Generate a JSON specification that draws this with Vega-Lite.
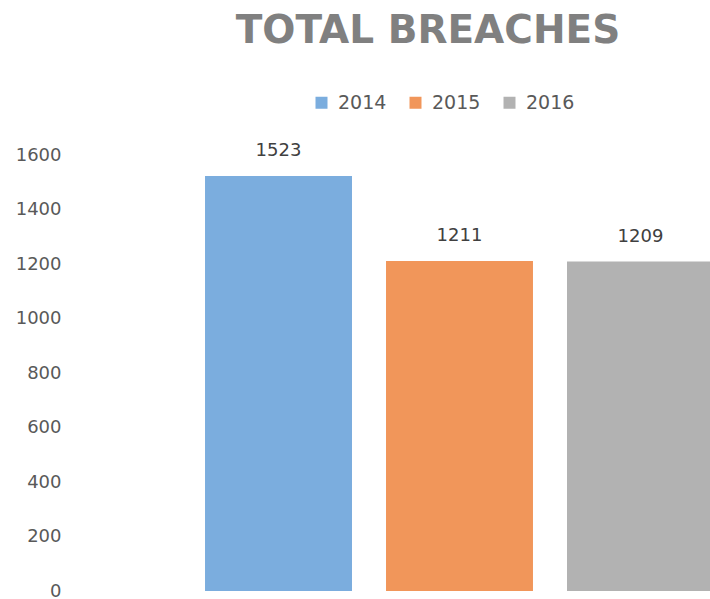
{
  "$schema": "https://vega.github.io/schema/vega-lite/v6.json",
  "width": 640,
  "height": 436,
  "autosize": "none",
  "padding": {"left": 70, "top": 155, "right": 0, "bottom": 8},
  "background": "white",
  "view": {"stroke": null},
  "title": {
    "text": "TOTAL BREACHES",
    "font": "DejaVu Sans",
    "fontSize": 39,
    "fontWeight": "bold",
    "color": "#808080",
    "anchor": "middle",
    "frame": "group",
    "dx": 38,
    "offset": 42
  },
  "data": {
    "values": [
      {"year": "2014", "breaches": 1523},
      {"year": "2015", "breaches": 1211},
      {"year": "2016", "breaches": 1209}
    ]
  },
  "encoding": {
    "x": {
      "field": "year",
      "type": "nominal",
      "axis": null,
      "scale": {"range": [0, 779], "paddingInner": 0.188, "paddingOuter": 0.746}
    },
    "y": {
      "field": "breaches",
      "type": "quantitative",
      "scale": {"domain": [0, 1600], "nice": false},
      "axis": {
        "values": [0, 200, 400, 600, 800, 1000, 1200, 1400, 1600],
        "format": "d",
        "labelFont": "DejaVu Sans",
        "labelFontSize": 18,
        "labelColor": "#595959",
        "labelPadding": 9,
        "labelFlush": false,
        "labelOverlap": false,
        "domain": false,
        "ticks": false,
        "grid": false,
        "title": null
      }
    }
  },
  "layer": [
    {
      "mark": {"type": "bar", "clip": true},
      "encoding": {
        "color": {
          "field": "year",
          "type": "nominal",
          "scale": {"domain": ["2014", "2015", "2016"], "range": ["#7badde", "#f1965a", "#b2b2b2"]},
          "legend": {
            "orient": "none",
            "direction": "horizontal",
            "legendX": 242,
            "legendY": -62,
            "title": null,
            "symbolType": "square",
            "symbolSize": 144,
            "symbolStrokeWidth": 0,
            "labelFont": "DejaVu Sans",
            "labelFontSize": 19,
            "labelColor": "#595959",
            "labelOffset": 7,
            "columnPadding": 19
          }
        }
      }
    },
    {
      "mark": {
        "type": "text",
        "font": "DejaVu Sans",
        "fontSize": 18,
        "color": "#404040",
        "baseline": "alphabetic",
        "dy": -20
      },
      "encoding": {"text": {"field": "breaches", "type": "quantitative"}}
    }
  ]
}
